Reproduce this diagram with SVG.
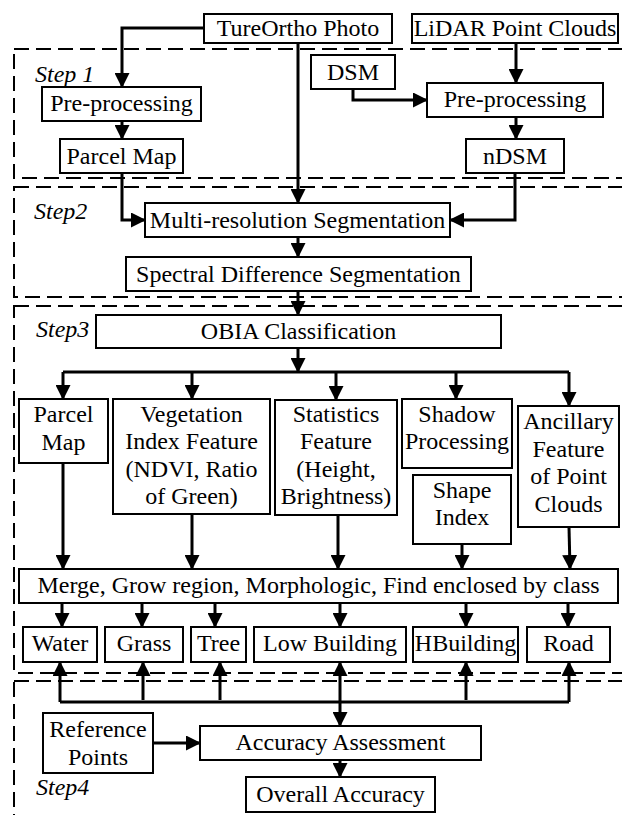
<svg xmlns="http://www.w3.org/2000/svg" width="622" height="815" viewBox="0 0 622 815" font-family="'Liberation Serif', 'Times New Roman', serif">
<style>
.box{fill:#fff;stroke:#000;stroke-width:2}
.step{fill:none;stroke:#000;stroke-width:2;stroke-dasharray:15 7}
text{font-family:'Liberation Serif','Times New Roman',serif}
.t{font-size:24px;text-anchor:middle;fill:#000}
.s{font-size:24px;font-style:italic;fill:#000}
.c{fill:none;stroke:#000;stroke-width:3}
.a{marker-end:url(#arr)}
</style>
<defs>
<marker id="arr" viewBox="0 0 15 15" refX="14" refY="7.5" markerWidth="15" markerHeight="15" markerUnits="userSpaceOnUse" orient="auto">
<path d="M0,0 L15,7.5 L0,15 z" fill="#000"/>
</marker>
</defs>
<g id="steps">
<rect class="step" x="14" y="49" width="640" height="129"/>
<rect class="step" x="14" y="187" width="640" height="110"/>
<rect class="step" x="14" y="306" width="640" height="367"/>
<rect class="step" x="14" y="681" width="640" height="160"/>
<text class="s" x="35" y="82">Step 1</text>
<text class="s" x="34" y="219">Step2</text>
<text class="s" x="36" y="337">Step3</text>
<text class="s" x="36" y="795">Step4</text>
</g>
<g id="connectors">
<path class="c a" d="M204,28 H122 V87"/>
<path class="c a" d="M298,43 V203"/>
<path class="c a" d="M516,43 V83"/>
<path class="c a" d="M353,89 V100 H427"/>
<path class="c a" d="M122,121 V139"/>
<path class="c a" d="M516,117 V139"/>
<path class="c a" d="M122,173 V220 H145"/>
<path class="c a" d="M515,173 V220 H450"/>
<path class="c a" d="M298,237 V257"/>
<path class="c a" d="M298,291 V315"/>
<path class="c a" d="M298,348 V372"/>
<path class="c" d="M63,372 H569"/>
<path class="c a" d="M63,372 V399"/>
<path class="c a" d="M192,372 V399"/>
<path class="c a" d="M336,372 V400"/>
<path class="c a" d="M456,372 V399"/>
<path class="c a" d="M569,372 V406"/>
<path class="c a" d="M63,463 V569"/>
<path class="c a" d="M192,514 V569"/>
<path class="c a" d="M338,515 V569"/>
<path class="c a" d="M462,544 V569"/>
<path class="c a" d="M569,527 L570,569"/>
<path class="c a" d="M62,603 V627"/>
<path class="c a" d="M142,603 V627"/>
<path class="c a" d="M215,603 V627"/>
<path class="c a" d="M340,603 V627"/>
<path class="c a" d="M466,603 V627"/>
<path class="c a" d="M568,603 V627"/>
<path class="c" d="M60,702 H569"/>
<path class="c a" d="M60,702 V662"/>
<path class="c a" d="M143,700 V662"/>
<path class="c a" d="M220,700 V662"/>
<path class="c a" d="M340,702 V662"/>
<path class="c a" d="M466,700 V662"/>
<path class="c a" d="M569,702 V662"/>
<path class="c a" d="M340,702 V726"/>
<path class="c a" d="M153,743 H200"/>
<path class="c a" d="M340,760 V777"/>
</g>
<g id="n-tureortho"><rect class="box" x="204" y="14" width="188" height="29"/><text class="t" x="298" y="36">TureOrtho Photo</text></g>
<g id="n-lidar"><rect class="box" x="412" y="14" width="206" height="29"/><text class="t" x="515" y="36">LiDAR Point Clouds</text></g>
<g id="n-dsm"><rect class="box" x="311" y="55" width="84" height="34"/><text class="t" x="353" y="80">DSM</text></g>
<g id="n-pre1"><rect class="box" x="42" y="87" width="159" height="34"/><text class="t" x="121.5" y="111">Pre-processing</text></g>
<g id="n-pre2"><rect class="box" x="427" y="83" width="176" height="34"/><text class="t" x="515" y="107">Pre-processing</text></g>
<g id="n-parcel1"><rect class="box" x="60" y="139" width="123" height="34"/><text class="t" x="121.5" y="164">Parcel Map</text></g>
<g id="n-ndsm"><rect class="box" x="466" y="139" width="98" height="34"/><text class="t" x="515" y="164">nDSM</text></g>
<g id="n-multires"><rect class="box" x="145" y="203" width="305" height="34"/><text class="t" x="297.5" y="228">Multi-resolution Segmentation</text></g>
<g id="n-spectral"><rect class="box" x="126" y="257" width="345" height="34"/><text class="t" x="298.5" y="282">Spectral Difference Segmentation</text></g>
<g id="n-obia"><rect class="box" x="96" y="315" width="405" height="33"/><text class="t" x="298.5" y="339">OBIA Classification</text></g>
<g id="n-parcel2"><rect class="box" x="19" y="399" width="89" height="64"/><text class="t" x="63.5" y="422">Parcel</text><text class="t" x="63.5" y="450">Map</text></g>
<g id="n-veg"><rect class="box" x="113" y="399" width="157" height="115"/><text class="t" x="191.5" y="422">Vegetation</text><text class="t" x="191.5" y="449">Index Feature</text><text class="t" x="191.5" y="477">(NDVI, Ratio</text><text class="t" x="191.5" y="504">of Green)</text></g>
<g id="n-stat"><rect class="box" x="275" y="400" width="122" height="115"/><text class="t" x="336" y="422">Statistics</text><text class="t" x="336" y="449">Feature</text><text class="t" x="336" y="477">(Height,</text><text class="t" x="336" y="504">Brightness)</text></g>
<g id="n-shadow"><rect class="box" x="402" y="399" width="110" height="69"/><text class="t" x="457" y="422">Shadow</text><text class="t" x="457" y="449">Processing</text></g>
<g id="n-shape"><rect class="box" x="413" y="475" width="98" height="69"/><text class="t" x="462" y="498">Shape</text><text class="t" x="462" y="525">Index</text></g>
<g id="n-ancillary"><rect class="box" x="518" y="406" width="101" height="121"/><text class="t" x="568.5" y="429">Ancillary</text><text class="t" x="568.5" y="457">Feature</text><text class="t" x="568.5" y="484">of Point</text><text class="t" x="568.5" y="512">Clouds</text></g>
<g id="n-merge"><rect class="box" x="19" y="569" width="599" height="34"/><text class="t" x="318.5" y="593">Merge, Grow region, Morphologic, Find enclosed by class</text></g>
<g id="n-water"><rect class="box" x="23" y="627" width="74" height="35"/><text class="t" x="60" y="651">Water</text></g>
<g id="n-grass"><rect class="box" x="105" y="627" width="78" height="35"/><text class="t" x="144" y="651">Grass</text></g>
<g id="n-tree"><rect class="box" x="191" y="627" width="55" height="35"/><text class="t" x="218.5" y="651">Tree</text></g>
<g id="n-lowbuilding"><rect class="box" x="254" y="627" width="152" height="35"/><text class="t" x="330" y="651">Low Building</text></g>
<g id="n-hbuilding"><rect class="box" x="413" y="627" width="105" height="35"/><text class="t" x="465.5" y="651">HBuilding</text></g>
<g id="n-road"><rect class="box" x="527" y="627" width="83" height="35"/><text class="t" x="568.5" y="651">Road</text></g>
<g id="n-refpoints"><rect class="box" x="43" y="713" width="110" height="60"/><text class="t" x="98" y="737">Reference</text><text class="t" x="98" y="765">Points</text></g>
<g id="n-accuracy"><rect class="box" x="200" y="726" width="281" height="34"/><text class="t" x="340.5" y="750">Accuracy Assessment</text></g>
<g id="n-overall"><rect class="box" x="246" y="777" width="189" height="35"/><text class="t" x="340.5" y="802">Overall Accuracy</text></g>
</svg>
